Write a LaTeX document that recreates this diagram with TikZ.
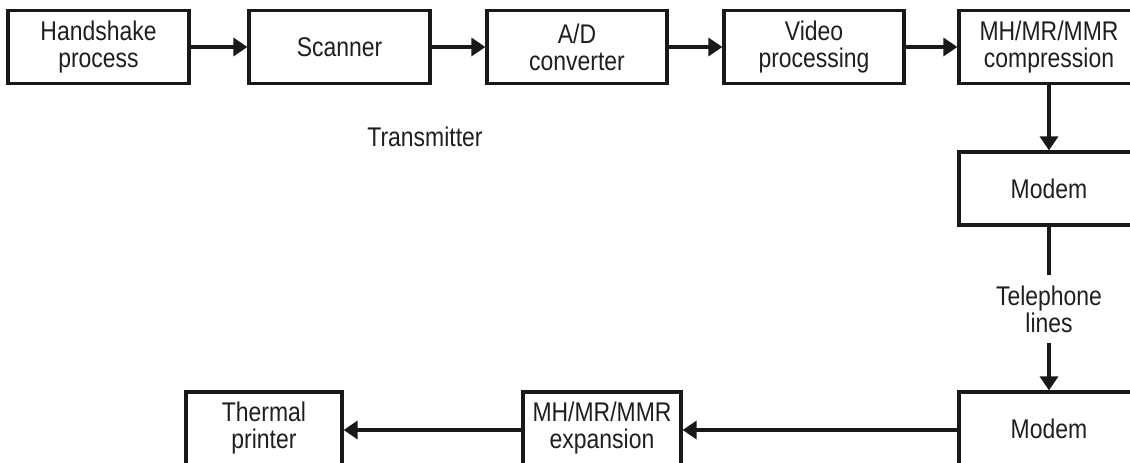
\documentclass[tikz,border=0pt]{standalone}
\usepackage{fontspec}
\setmainfont{Liberation Sans}[FakeStretch=0.85]
\usetikzlibrary{arrows.meta}
\tikzset{
  blk/.style={draw=black!90, line width=3.2pt, minimum height=73pt, align=center,
    inner sep=0pt, font=\fontsize{27}{27}\selectfont, text=black!88},
  lbl/.style={align=center, font=\fontsize{27}{27}\selectfont, text=black!88, inner sep=0pt},
  flow/.style={draw=black!90, line width=3.2pt, -{Triangle[length=14pt,width=18pt]}},
  wire/.style={draw=black!90, line width=3.2pt}
}
\begin{document}
\begin{tikzpicture}[x=1pt,y=-1pt]
\clip (0,0) rectangle (1130,463);
\fill[white] (0,0) rectangle (1130,463);
% transmitter chain
\node[blk, minimum width=181pt] (hs)   at (98.5,47)  {Handshake\\process};
\node[blk, minimum width=181pt] (scan) at (339.5,47) {Scanner};
\node[blk, minimum width=180pt] (ad)   at (577,47)   {A/D\\converter};
\node[blk, minimum width=180pt] (vid)  at (814,47)   {Video\\processing};
\node[blk, minimum width=180pt] (comp) at (1049,47)  {MH/MR/MMR\\compression};
\node[blk, minimum width=180pt] (mod1) at (1049,188.5) {Modem};
\node[lbl] (tx) at (425,137) {Transmitter};
% line
\node[lbl, inner sep=10pt] (tel) at (1049,309) {Telephone\\lines};
% receiver chain
\node[blk, minimum width=180pt] (mod2) at (1049,428.5) {Modem};
\node[blk, minimum width=158pt] (exp)  at (602,428.5)  {MH/MR/MMR\\expansion};
\node[blk, minimum width=156pt] (tp)   at (264,428.5)  {Thermal\\printer};
% connectors
\draw[flow] (hs) -- (scan);
\draw[flow] (scan) -- (ad);
\draw[flow] (ad) -- (vid);
\draw[flow] (vid) -- (comp);
\draw[flow] (comp) -- (mod1);
\draw[wire] (mod1.south) -- (tel.north);
\draw[flow] (tel.south) -- (mod2.north);
\draw[flow] (mod2.west |- 0,430) -- (exp.east |- 0,430);
\draw[flow] (exp.west |- 0,430) -- (tp.east |- 0,430);
\end{tikzpicture}
\end{document}
